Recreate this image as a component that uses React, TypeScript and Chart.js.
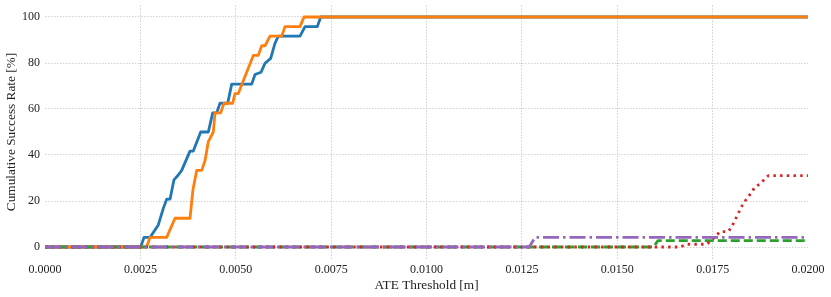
import React, { useEffect, useRef } from "react";
import { Chart, registerables } from "chart.js";

Chart.register(...registerables);

// ATE threshold values [m] and cumulative success rate [%] per series
const blueX = [0, 0.002509, 0.002595, 0.002752, 0.00297, 0.003101, 0.00319, 0.003277, 0.003381, 0.003494, 0.003583, 0.003801, 0.003887, 0.004081, 0.004281, 0.004396, 0.004501, 0.004587, 0.004789, 0.004894, 0.005418, 0.005505, 0.005662, 0.005767, 0.005916, 0.006029, 0.006115, 0.006684, 0.006815, 0.007138, 0.007227, 0.02];
const blueY = [0, 0, 4.17, 4.17, 9.6, 16.8, 20.8, 20.8, 29.2, 31.3, 33.3, 41.7, 41.7, 50, 50, 58.3, 58.3, 62.5, 62.5, 70.8, 70.8, 75, 76, 79.9, 82, 88.6, 91.7, 91.7, 95.8, 95.8, 100, 100];

const orangeX = [0, 0.002666, 0.002752, 0.00319, 0.003408, 0.003801, 0.003879, 0.003976, 0.004107, 0.004194, 0.004281, 0.004412, 0.004456, 0.004605, 0.004692, 0.00492, 0.00498, 0.005067, 0.00546, 0.005591, 0.00568, 0.005767, 0.005898, 0.006205, 0.006291, 0.006684, 0.006789, 0.02];
const orangeY = [0, 0, 4.17, 4.17, 12.5, 12.5, 25, 33.3, 33.3, 37.5, 45.8, 50, 58.3, 58.3, 62.5, 62.5, 66.7, 66.7, 83.3, 83.3, 87.5, 87.5, 91.7, 91.7, 95.8, 95.8, 100, 100];

const greenX = [0, 0.015945, 0.016068, 0.02];
const greenY = [0, 0, 2.78, 2.78];

const redX = [0, 0.016645, 0.01682, 0.017345, 0.017476, 0.017693, 0.017911, 0.018, 0.018304, 0.018524, 0.018611, 0.018724, 0.01896, 0.02];
const redY = [0, 0, 1.2, 1.2, 3, 6.7, 6.7, 8.8, 19, 23.8, 26.2, 27.2, 31, 31];

const purpleX = [0, 0.012695, 0.012844, 0.02];
const purpleY = [0, 0, 4.17, 4.17];

const yTicks = [0, 20, 40, 60, 80, 100];

const toPts = (xs: number[], ys: number[]) => xs.map((x, i) => ({ x, y: ys[i] }));

const FONT = "'Liberation Serif', 'Times New Roman', serif";

export default function App() {
  const ref = useRef<HTMLCanvasElement>(null);
  useEffect(() => {
    if (!ref.current) return;
    const common = { pointRadius: 0, tension: 0, fill: false, borderJoinStyle: "round" as const };
    const chart = new Chart(ref.current, {
      type: "line",
      data: {
        datasets: [
          { ...common, order: 5, data: toPts(blueX, blueY), borderColor: "#1f77b4", borderWidth: 2.8 },
          { ...common, order: 4, data: toPts(orangeX, orangeY), borderColor: "#ff7f0e", borderWidth: 2.8 },
          { ...common, order: 3, data: toPts(greenX, greenY), borderColor: "#2ca02c", borderWidth: 2.8, borderDash: [9, 4] },
          { ...common, order: 2, data: toPts(redX, redY), borderColor: "#d62728", borderWidth: 2.8, borderDash: [2.5, 4.2] },
          { ...common, order: 1, data: toPts(purpleX, purpleY), borderColor: "#9467bd", borderWidth: 2.8, borderDash: [16, 4, 2.5, 4] },
        ],
      },
      options: {
        animation: false,
        responsive: false,
        maintainAspectRatio: false,
        parsing: false,
        layout: { padding: { left: 0, right: 23, top: 0, bottom: 0 } },
        plugins: { legend: { display: false }, tooltip: { enabled: false } },
        scales: {
          x: {
            type: "linear",
            min: 0,
            max: 0.02,
            afterFit: (s: any) => { s.height = 38.5; },
            ticks: {
              stepSize: 0.0025,
              padding: 4,
              color: "#222",
              font: { family: FONT, size: 12 },
              callback: (v: any) => Number(v).toFixed(4),
              maxRotation: 0,
              autoSkip: false,
            },
            grid: {
              drawTicks: false,
              lineWidth: 0.8,
              color: (ctx: any) => {
                const v = ctx.tick ? ctx.tick.value : null;
                if (v === 0 || (v !== null && Math.abs(v - 0.02) < 1e-9)) return "rgba(0,0,0,0)";
                return "#c4c4c4";
              },
            },
            border: { display: false, dash: [1.5, 1.5] },
            title: { display: true, text: "ATE Threshold [m]", color: "#222", font: { family: FONT, size: 13.3 }, padding: { top: 0, bottom: 4 } },
          },
          y: {
            type: "linear",
            min: -5,
            max: 105,
            afterFit: (s: any) => { s.width = 45; s.paddingTop = 5.5; s.paddingBottom = 0; },
            afterBuildTicks: (s: any) => { s.ticks = yTicks.map((v) => ({ value: v })); },
            ticks: { padding: 5, color: "#222", font: { family: FONT, size: 12 } },
            grid: { drawTicks: false, lineWidth: 0.8, color: "#c4c4c4" },
            border: { display: false, dash: [1.5, 1.5] },
            title: { display: true, text: "Cumulative Success Rate [%]", color: "#222", font: { family: FONT, size: 13.3 }, padding: { top: 4, bottom: 0 } },
          },
        },
      },
    });
    return () => chart.destroy();
  }, []);
  return (
    <div style={{ position: "fixed", left: 0, top: 0, width: 831, height: 297, background: "#fff" }}>
      <canvas ref={ref} width={831} height={297} style={{ width: 831, height: 297, display: "block" }} />
    </div>
  );
}
